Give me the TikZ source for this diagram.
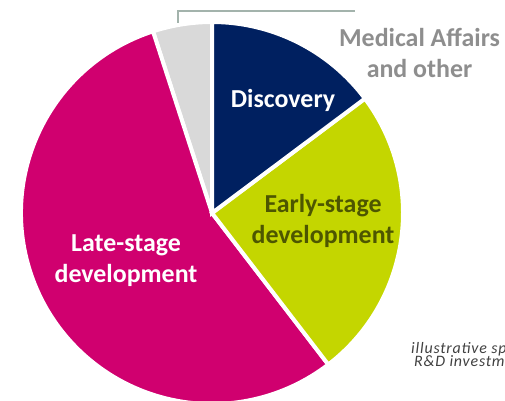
\documentclass[tikz,border=0pt]{standalone}
\usepackage{fontspec}
\setmainfont{Carlito}
\definecolor{mpink}{HTML}{D0006F}
\definecolor{mnavy}{HTML}{002060}
\definecolor{mlime}{HTML}{C4D600}
\definecolor{mgrey}{HTML}{D9D9D9}
\definecolor{mtext}{HTML}{8E8E8E}
\definecolor{molive}{HTML}{4D5600}
\definecolor{mline}{HTML}{A3B3AC}
\tikzset{
  slice/.style={draw=white,line width=4bp},
  lbl/.style={font=\bfseries\fontsize{26}{31}\selectfont,align=center,inner sep=0pt,anchor=base},
  note/.style={font=\itshape\fontsize{16}{13}\selectfont\addfontfeature{LetterSpace=5},text=black!75,inner sep=0pt,anchor=base west}
}
\begin{document}
\begin{tikzpicture}[x=1bp,y=1bp]
            \useasboundingbox (0,0) rectangle (505,400);
            \coordinate (c) at (212,187);
            % slices: start angle / end angle / colour
            \foreach \a/\b/\col in {90/108/mgrey,108/307.5/mpink,-52.5/36.8/mlime,36.8/90/mnavy}
              \draw[slice,fill=\col] (c) -- ++(\a:191bp) arc[start angle=\a,end angle=\b,radius=191bp] -- cycle;
            \draw[mline,line width=2bp] (178,377) -- (178,389) -- (355,389);
            % base = baseline of the last line
            \node[lbl,text=white] (disc) at (283,293) {Discovery};
            \node[lbl,text=mtext] (med) at (419.5,323) {Medical Affairs\\and other};
            \node[lbl,text=molive] (early) at (323,157) {Early-stage\\development};
            \node[lbl,text=white] (late) at (126,118) {Late-stage\\development};
            \node[note] (note1) at (411,47) {illustrative sp};
            \node[note] (note2) at (414,34) {R\&D investm};
        \end{tikzpicture}
\end{document}
